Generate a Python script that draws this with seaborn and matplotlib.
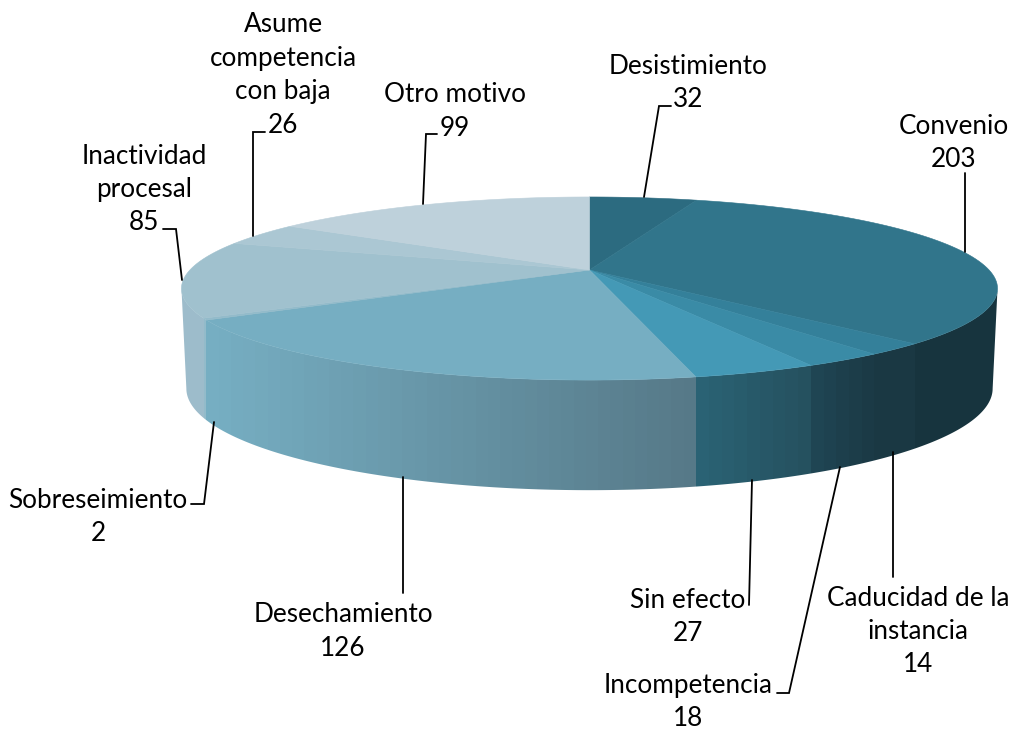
import numpy as np
import matplotlib
matplotlib.use("Agg")
import matplotlib.pyplot as plt
from matplotlib.patches import Polygon
import seaborn as sns

# 1. DATOS
motivos = ['Desistimiento', 'Convenio', 'Caducidad de la\ninstancia', 'Incompetencia', 'Sin efecto',
           'Desechamiento', 'Sobreseimiento', 'Inactividad\nprocesal', 'Asume\ncompetencia\ncon baja', 'Otro motivo']
valores = [32, 203, 14, 18, 27, 126, 2, 85, 26, 99]

# 2. ESTILO
colores_tapa = ['#2C6B80', '#31758B', '#34809A', '#3A8BA6', '#4499B6',
                '#76AEC2', '#93BBCA', '#A0C1CE', '#ABC7D3', '#BED1DB']
# color del lateral en su extremo izquierdo y derecho en pantalla
lado_izq = ['#17343E', '#17343E', '#1A3843', '#1F4553', '#2A6274',
            '#76AEC2', '#93BBCA', '#A3C0CE', '#ABC7D3', '#BED1DB']
lado_der = ['#17343E', '#17343E', '#1A3843', '#1B3A46', '#25515F',
            '#567988', '#93BBCA', '#9DBCCB', '#ABC7D3', '#BED1DB']

# posicion de cada etiqueta (centro x, y de la primera linea)
pos_etiquetas = [(688, 66), (954, 126), (918, 598), (688, 685), (688, 600),
                 (343, 615), (98, 500), (144, 156), (283, 25), (455, 95)]
# guias en pixeles de la imagen
guias = [[(644, 197), (659, 106), (671, 106)],
         [(965, 173), (965, 252)],
         [(893, 452), (893, 577)],
         [(840, 467), (789, 693), (777, 693)],
         [(752, 480), (749, 605)],
         [(403, 477), (403, 593)],
         [(214, 422), (204, 504), (191, 504)],
         [(182, 280), (176, 229), (163, 229)],
         [(253, 236), (253, 132), (265, 132)],
         [(423, 204), (426, 134), (437, 134)]]

ALTO_LINEA = 33.5

# geometria de la tapa (circulo en perspectiva)
CX, CY = 589.5, 270
A, B, K = 399.6, 87.8, 0.2023
PROF, ESC_X, ESC_Y = 98, 0.988, 1.11


def tapa(t):
    u, v = np.sin(t), -np.cos(t)
    w = 1 - K * v
    return A * u / w, B * v / w


def punto_arriba(t):
    x, y = tapa(t)
    return CX + x, CY + y


def punto_abajo(t):
    x, y = tapa(t)
    return CX + x * ESC_X, CY + PROF + y * ESC_Y


sns.set_theme(style="white")
plt.rcParams['font.family'] = ['Lato', 'DejaVu Sans']

fig = plt.figure(figsize=(10.12, 7.31), dpi=100)
ax = fig.add_axes([0, 0, 1, 1])
ax.set_xlim(0, 1012)
ax.set_ylim(731, 0)
ax.axis('off')

angulos = np.concatenate([[0], np.cumsum(valores)]) / np.sum(valores) * 2 * np.pi
# ajuste de perspectiva en el lado derecho
angulos = angulos + 0.07 * np.sin(angulos) ** 2 * (angulos < np.pi)
t_min, t_max = np.arccos(-K), 2 * np.pi - np.arccos(-K)

# 3. LATERAL: silueta y bandas verticales con degradado por rebanada
ts = np.linspace(t_min, t_max, 300)
xa, ya = punto_arriba(ts)
xb, yb = punto_abajo(ts[::-1])
silueta = Polygon(np.c_[np.r_[xa, xb], np.r_[ya, yb]], closed=True, transform=ax.transData)

for i in range(len(valores)):
    t0, t1 = max(angulos[i], t_min), min(angulos[i + 1], t_max)
    if t1 <= t0:
        continue
    x_der, x_izq = punto_arriba(t0)[0], punto_arriba(t1)[0]
    if angulos[i] < t_min:
        x_der = 1012
    if angulos[i + 1] > t_max:
        x_izq = 0
    n = max(int((x_der - x_izq) / 12), 1)
    tonos = sns.blend_palette([lado_izq[i], lado_der[i]], n)
    cortes = np.linspace(x_izq, x_der, n + 1)
    for j in range(n):
        banda = ax.axvspan(cortes[j], cortes[j + 1], color=tonos[j], lw=0, zorder=2)
        banda.set_antialiased(False)
        banda.set_clip_path(silueta)

# 4. TAPA
for i in range(len(valores)):
    ts = np.linspace(angulos[i], angulos[i + 1], 80)
    xa, ya = punto_arriba(ts)
    ax.fill(np.r_[CX, xa], np.r_[CY, ya], color=colores_tapa[i], lw=0.4, zorder=3)

# 5. GUIAS Y ETIQUETAS
for guia in guias:
    xs, ys = zip(*guia)
    ax.plot(xs, ys, color='black', lw=1.3, solid_joinstyle='miter', zorder=4)

for motivo, valor, (x, y) in zip(motivos, valores, pos_etiquetas):
    lineas = motivo.split('\n') + [str(valor)]
    for n, linea in enumerate(lineas):
        ax.text(x, y + n * ALTO_LINEA, linea, ha='center', va='center', fontsize=18.8, color='black', zorder=5)

fig.savefig('out.png', dpi=100)
plt.close(fig)
